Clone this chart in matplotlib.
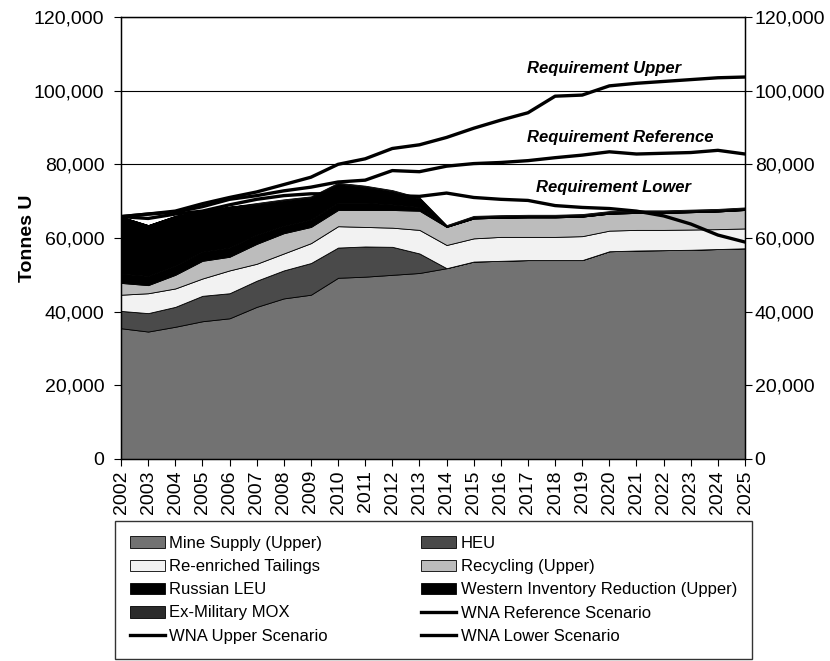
import matplotlib
matplotlib.use('Agg')
import matplotlib.pyplot as plt
from matplotlib.ticker import FuncFormatter

plt.rcParams['font.family'] = ['Liberation Sans', 'DejaVu Sans']

years = list(range(2002, 2026))

# supply layers, tonnes U
mine = [35500, 34600, 35900, 37400, 38200, 41300, 43600, 44600, 49200, 49500, 50000, 50500,
        51800, 53600, 53800, 54000, 54000, 54000, 56400, 56600, 56700, 56800, 57000, 57200]
heu = [4700, 5000, 5400, 6900, 6800, 7100, 7600, 8600, 8200, 8200, 7600, 5300,
       0, 0, 0, 0, 0, 0, 0, 0, 0, 0, 0, 0]
tailings = [4400, 5400, 5000, 4700, 6200, 4600, 4600, 5400, 5800, 5300, 5200, 6400,
            6300, 6300, 6500, 6300, 6300, 6500, 5600, 5600, 5500, 5500, 5400, 5400]
recycling = [3200, 2200, 3700, 4800, 3700, 5400, 5500, 4400, 4400, 4600, 4800, 5200,
             4900, 5400, 5200, 5300, 5300, 5300, 4600, 4600, 4600, 4700, 4800, 5000]
russian_leu = [2500, 2500, 2500, 2500, 2500, 2500, 2000, 2000, 2000, 2000, 1500, 1000,
               0, 0, 0, 0, 0, 0, 0, 0, 0, 0, 0, 0]
western_inv = [15500, 13800, 13500, 11000, 11100, 8300, 6900, 6000, 5100, 4300, 3600, 2300,
               200, 400, 400, 400, 400, 400, 400, 400, 400, 400, 400, 400]
mox = [0, 0, 0, 0, 0, 300, 300, 300, 300, 300, 300, 300,
       300, 300, 300, 300, 300, 300, 300, 300, 300, 300, 300, 300]

# requirement scenarios
req_upper = [65800, 66500, 67300, 69300, 71000, 72500, 74500, 76500, 80000, 81500, 84300, 85300,
             87300, 89800, 92000, 94000, 98500, 98800, 101300, 102000, 102500, 103000, 103500, 103700]
req_ref = [65800, 66500, 67000, 68500, 70500, 71500, 72800, 73800, 75200, 75700, 78300, 78000,
           79500, 80200, 80500, 81000, 81800, 82500, 83400, 82800, 83000, 83200, 83800, 82800]
req_lower = [65800, 65300, 66500, 67300, 69000, 70500, 71500, 72000, 72000, 72000, 71500, 71300,
             72200, 71000, 70500, 70200, 68800, 68300, 68000, 67300, 66000, 63800, 60800, 58900]

y_ticks = [0, 20000, 40000, 60000, 80000, 100000, 120000]

fig = plt.figure(figsize=(8.3, 6.61), dpi=100)
ax = fig.add_axes([0.1458, 0.3056, 0.7518, 0.6687])

polys = ax.stackplot(years, mine, heu, tailings, recycling, russian_leu, western_inv, mox,
                     colors=['#727272', '#4a4a4a', '#f2f2f2', '#bcbcbc', '#000000', '#000000', '#2b2b2b'],
                     edgecolor='black', linewidth=0.6, zorder=2)
area_labels = ['Mine Supply (Upper)', 'HEU', 'Re-enriched Tailings', 'Recycling (Upper)',
               'Russian LEU', 'Western Inventory Reduction (Upper)', 'Ex-Military MOX']

l_ref, = ax.plot(years, req_ref, color='black', lw=2.4, zorder=3)
l_up, = ax.plot(years, req_upper, color='black', lw=2.4, zorder=3)
l_low, = ax.plot(years, req_lower, color='black', lw=2.4, zorder=3)

txt = dict(fontsize=12, fontweight='bold', fontstyle='italic', ha='left', va='center', zorder=4)
ax.text(2016.95, 105900, 'Requirement Upper', **txt)
ax.text(2016.95, 87400, 'Requirement Reference', **txt)
ax.text(2017.3, 73600, 'Requirement Lower', **txt)

ax.set_xlim(2002, 2025)
ax.set_ylim(0, 120000)
ax.set_xticks(years)
ax.set_xticklabels([str(y) for y in years], rotation=90, fontsize=14)
ax.set_yticks(y_ticks)
fmt = FuncFormatter(lambda v, p: f'{int(v):,}')
ax.yaxis.set_major_formatter(fmt)
ax.tick_params(axis='y', labelsize=14, direction='out', length=5, pad=7)
ax.tick_params(axis='x', direction='out', length=5, pad=3)
ax.grid(axis='y', color='black', lw=0.8)
ax.set_axisbelow(True)
ax.set_ylabel('Tonnes U', fontsize=14, fontweight='bold', va='center')
ax.yaxis.set_label_coords(-0.1506, 0.5)
for s in ax.spines.values():
    s.set_linewidth(1.0)

ax2 = ax.twinx()
ax2.set_ylim(0, 120000)
ax2.set_yticks(y_ticks)
ax2.yaxis.set_major_formatter(fmt)
ax2.tick_params(axis='y', labelsize=14, direction='out', length=5, pad=2)

# legend, filled row by row like the original
handles = [polys[0], polys[2], polys[4], polys[6], l_up,
           polys[1], polys[3], polys[5], l_ref, l_low]
labels = [area_labels[0], area_labels[2], area_labels[4], area_labels[6], 'WNA Upper Scenario',
          area_labels[1], area_labels[3], area_labels[5], 'WNA Reference Scenario', 'WNA Lower Scenario']
leg = fig.legend(handles, labels, ncol=2, loc='upper left',
                 bbox_to_anchor=(115 / 830, 1 - 521 / 661, 637 / 830, 0), mode='expand',
                 frameon=True, fancybox=False, edgecolor='black', fontsize=12,
                 handlelength=2.1, labelspacing=0.49, borderpad=0.9, borderaxespad=0,
                 handletextpad=0.25)
leg.get_frame().set_linewidth(1.0)

fig.savefig('out.png', dpi=100)
